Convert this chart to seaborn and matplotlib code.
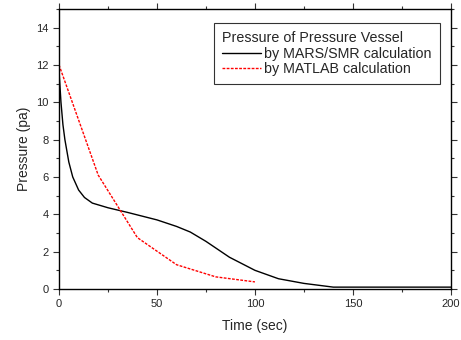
import numpy as np
import pandas as pd
import matplotlib
matplotlib.use("Agg")
import matplotlib.pyplot as plt
from matplotlib.ticker import MultipleLocator
import seaborn as sns

# values
mars_t = [0, 1, 2, 3, 5, 7, 10, 13, 17, 25, 35, 50, 60, 67, 75, 87, 100, 112, 125, 140, 200]
mars_p = [11.7, 10.0, 8.8, 8.0, 6.8, 6.0, 5.3, 4.9, 4.6, 4.35, 4.1, 3.7, 3.35, 3.05, 2.55, 1.7, 1.0, 0.55, 0.3, 0.1, 0.1]
matlab_t = [0, 20, 40, 60, 80, 100]
matlab_p = [12.0, 6.1, 2.75, 1.3, 0.65, 0.38]

df_mars = pd.DataFrame({"t": mars_t, "p": mars_p})
df_matlab = pd.DataFrame({"t": matlab_t, "p": matlab_p})

sns.set_style("ticks")
plt.rcParams['font.family'] = ['Liberation Sans', 'DejaVu Sans']

fig = plt.figure(figsize=(4.61, 3.40), dpi=100)
ax = fig.add_axes([0.128, 0.15, 0.85, 0.824])

sns.lineplot(data=df_mars, x="t", y="p", ax=ax, color="black", lw=1.0,
             label="by MARS/SMR calculation")
sns.lineplot(data=df_matlab, x="t", y="p", ax=ax, color="red", lw=1.0,
             linestyle=(0, (2, 1)), label="by MATLAB calculation")

ax.set_xlim(0, 200)
ax.set_ylim(0, 15)
ax.xaxis.set_major_locator(MultipleLocator(50))
ax.xaxis.set_minor_locator(MultipleLocator(25))
ax.yaxis.set_major_locator(MultipleLocator(2))
ax.yaxis.set_minor_locator(MultipleLocator(1))
ax.tick_params(which="both", direction="out", top=True, right=True, labelsize=8, width=0.8, color="#333333")
ax.tick_params(which="major", length=4)
ax.tick_params(which="minor", length=2.5)
ax.set_yticks(range(0, 15, 2))
for s in ax.spines.values():
    s.set_linewidth(1.0)
    s.set_color("black")

ax.set_xlabel("Time (sec)", fontsize=10, labelpad=7)
ax.set_ylabel("Pressure (pa)", fontsize=10)

leg = ax.legend(title="Pressure of Pressure Vessel", loc="upper right",
                bbox_to_anchor=(0.972, 0.95), fontsize=10.3, title_fontsize=10.3,
                frameon=True, fancybox=False, edgecolor="black",
                handlelength=2.7, handletextpad=0.2, borderpad=0.6,
                borderaxespad=0, labelspacing=0.05, alignment="left")
leg.get_frame().set_linewidth(0.8)
leg._legend_box.sep = 1

fig.savefig("out.png", dpi=100)
